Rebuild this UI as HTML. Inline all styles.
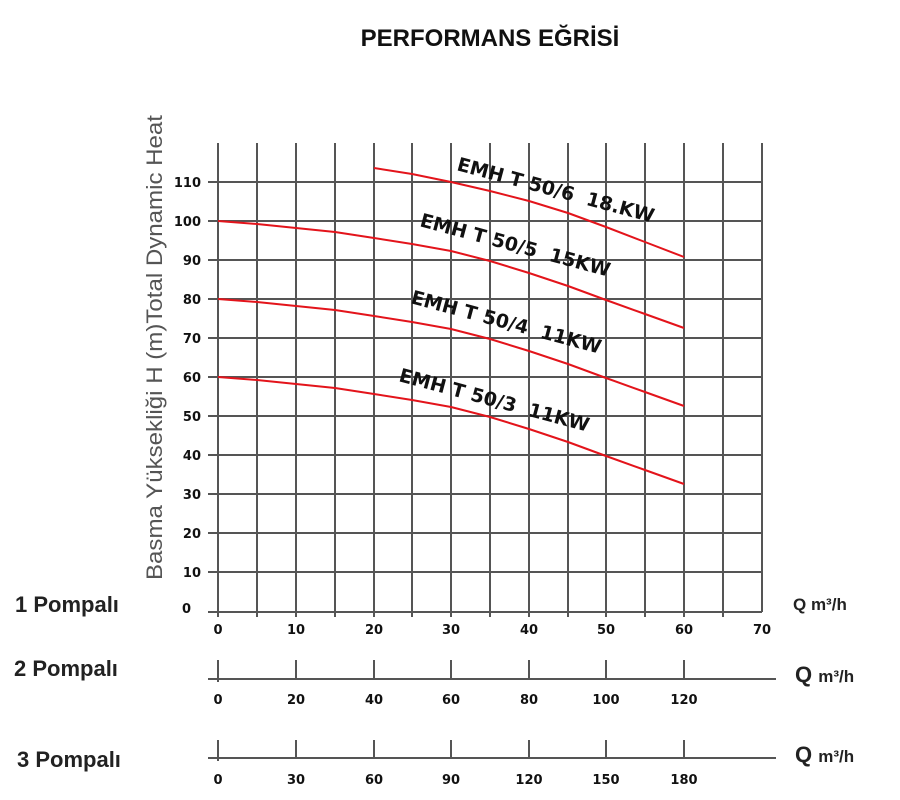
<!DOCTYPE html>
<html><head><meta charset="utf-8"><style>
html,body{margin:0;padding:0;background:#fff;width:900px;height:800px;overflow:hidden}
</style></head><body>
<svg width="900" height="800" xmlns="http://www.w3.org/2000/svg" font-family="Liberation Sans, sans-serif">
<text x="490" y="46" text-anchor="middle" font-size="24" font-weight="bold" fill="#111">PERFORMANS EĞRİSİ</text>
<g stroke="#555" stroke-width="2">
<line x1="218" y1="143" x2="218" y2="617"/><line x1="257" y1="143" x2="257" y2="617"/>
<line x1="296" y1="143" x2="296" y2="617"/><line x1="335" y1="143" x2="335" y2="617"/>
<line x1="374" y1="143" x2="374" y2="617"/><line x1="412" y1="143" x2="412" y2="617"/>
<line x1="451" y1="143" x2="451" y2="617"/><line x1="490" y1="143" x2="490" y2="617"/>
<line x1="529" y1="143" x2="529" y2="617"/><line x1="568" y1="143" x2="568" y2="617"/>
<line x1="606" y1="143" x2="606" y2="617"/><line x1="645" y1="143" x2="645" y2="617"/>
<line x1="684" y1="143" x2="684" y2="617"/><line x1="723" y1="143" x2="723" y2="617"/>
<line x1="762" y1="143" x2="762" y2="612"/>
<line x1="208" y1="182" x2="762" y2="182"/><line x1="208" y1="221" x2="762" y2="221"/>
<line x1="208" y1="260" x2="762" y2="260"/><line x1="208" y1="299" x2="762" y2="299"/>
<line x1="208" y1="338" x2="762" y2="338"/><line x1="208" y1="377" x2="762" y2="377"/>
<line x1="208" y1="416" x2="762" y2="416"/><line x1="208" y1="455" x2="762" y2="455"/>
<line x1="208" y1="494" x2="762" y2="494"/><line x1="208" y1="533" x2="762" y2="533"/>
<line x1="208" y1="572" x2="762" y2="572"/><line x1="208" y1="612" x2="762" y2="612"/>
<line x1="208" y1="679" x2="776" y2="679"/>
<line x1="218" y1="660" x2="218" y2="682"/><line x1="296" y1="660" x2="296" y2="679"/>
<line x1="374" y1="660" x2="374" y2="679"/><line x1="451" y1="660" x2="451" y2="679"/>
<line x1="529" y1="660" x2="529" y2="679"/><line x1="606" y1="660" x2="606" y2="679"/>
<line x1="684" y1="660" x2="684" y2="679"/>
<line x1="208" y1="758" x2="776" y2="758"/>
<line x1="218" y1="740" x2="218" y2="761"/><line x1="296" y1="740" x2="296" y2="758"/>
<line x1="374" y1="740" x2="374" y2="758"/><line x1="451" y1="740" x2="451" y2="758"/>
<line x1="529" y1="740" x2="529" y2="758"/><line x1="606" y1="740" x2="606" y2="758"/>
<line x1="684" y1="740" x2="684" y2="758"/>
</g>
<g fill="none" stroke="#e3141b" stroke-width="2" stroke-linejoin="round">
<polyline id="c3" points="218,377 257,380 296,384 335,388 374,394 412,400 451,407 490,417 529,429 568,442 606,456 645,470 684,484"/>
<polyline transform="translate(0,-78)" points="218,377 257,380 296,384 335,388 374,394 412,400 451,407 490,417 529,429 568,442 606,456 645,470 684,484"/>
<polyline transform="translate(0,-156)" points="218,377 257,380 296,384 335,388 374,394 412,400 451,407 490,417 529,429 568,442 606,456 645,470 684,484"/>
<polyline points="374,168 412,174 451,182 490,191 529,201 568,213 606,227 645,242 684,257"/>
</g>
<g font-size="19" font-weight="bold" fill="#111" font-family="DejaVu Sans, sans-serif">
<text transform="translate(398,381) rotate(15)">EMH T 50/3&#160; 11KW</text>
<text transform="translate(410,303) rotate(15)">EMH T 50/4&#160; 11KW</text>
<text transform="translate(419,226) rotate(15)">EMH T 50/5&#160; 15KW</text>
<text transform="translate(456,170) rotate(15)">EMH T 50/6&#160; 18.KW</text>
</g>
<g font-size="13" font-weight="bold" fill="#111" text-anchor="end" font-family="DejaVu Sans, sans-serif">
<text x="201" y="187">110</text><text x="201" y="226">100</text><text x="201" y="265">90</text>
<text x="201" y="304">80</text><text x="201" y="343">70</text><text x="201" y="382">60</text>
<text x="201" y="421">50</text><text x="201" y="460">40</text><text x="201" y="499">30</text>
<text x="201" y="538">20</text><text x="201" y="577">10</text><text x="191" y="613">0</text>
</g>
<g font-size="13" font-weight="bold" fill="#111" text-anchor="middle" font-family="DejaVu Sans, sans-serif">
<text x="218" y="634">0</text><text x="296" y="634">10</text><text x="374" y="634">20</text>
<text x="451" y="634">30</text><text x="529" y="634">40</text><text x="606" y="634">50</text>
<text x="684" y="634">60</text><text x="762" y="634">70</text>
<text x="218" y="704">0</text><text x="296" y="704">20</text><text x="374" y="704">40</text>
<text x="451" y="704">60</text><text x="529" y="704">80</text><text x="606" y="704">100</text>
<text x="684" y="704">120</text>
<text x="218" y="784">0</text><text x="296" y="784">30</text><text x="374" y="784">60</text>
<text x="451" y="784">90</text><text x="529" y="784">120</text><text x="606" y="784">150</text>
<text x="684" y="784">180</text>
</g>
<text transform="translate(162,580) rotate(-90)" font-size="22" fill="#555" textLength="465" lengthAdjust="spacingAndGlyphs">Basma Yüksekliği H (m)Total Dynamic Heat</text>
<g font-weight="bold" fill="#222">
<text x="15" y="612" font-size="22">1 Pompalı</text>
<text x="14" y="676" font-size="22">2 Pompalı</text>
<text x="17" y="767" font-size="22">3 Pompalı</text>
<text x="793" y="610" font-size="17">Q m³/h</text>
<text x="795" y="682" font-size="22">Q <tspan font-size="17">m³/h</tspan></text>
<text x="795" y="762" font-size="22">Q <tspan font-size="17">m³/h</tspan></text>
</g>
</svg>
</body></html>
